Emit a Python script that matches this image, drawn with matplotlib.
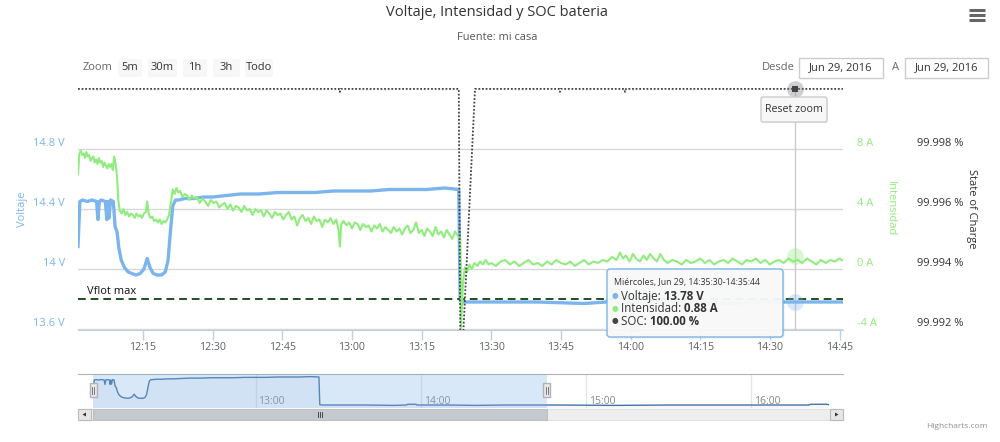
import matplotlib
matplotlib.use("Agg")
import matplotlib.pyplot as plt
from matplotlib.patches import Rectangle, FancyBboxPatch, Polygon
from matplotlib.transforms import blended_transform_factory

plt.rcParams['font.family'] = ['Open Sans', 'DejaVu Sans']

# ---------------------------------------
# Data (time in minutes after 12:00, Jun 29 2016)
# ---------------------------------------
volt_min = [1.0, 1.4, 2, 3, 4, 5.0, 5.3, 5.6, 6, 6.9,
            7.2, 7.4, 7.7, 8.0, 8.6, 9.0, 9.4, 9.8, 10.3, 11.0,
            11.8, 12.6, 13.5, 14.4, 15.2, 15.9, 16.5, 17.2, 18.0, 19.0,
            19.8, 20.4, 20.9, 21.4, 22.0, 22.6, 24, 26, 28, 30,
            33, 36, 40, 44, 48, 52, 56, 60, 64, 68,
            72, 76, 80, 83.0, 83.3, 84, 90, 100, 110, 114.8,
            115.2, 118.2, 118.6, 130, 140, 150, 160, 170, 190, 210,
            230, 250, 261, 261.5, 267.5, 268]
volt_val = [14.15, 14.45, 14.46, 14.45, 14.46, 14.45, 14.33, 14.45, 14.46, 14.45,
            14.33, 14.45, 14.34, 14.46, 14.45, 14.28, 14.25, 14.14, 14.06, 14.01,
            13.98, 13.97, 13.96, 13.97, 14.00, 14.07, 14.01, 13.97, 13.96, 13.96,
            13.98, 14.06, 14.25, 14.42, 14.46, 14.46, 14.47, 14.47, 14.48, 14.48,
            14.49, 14.50, 14.50, 14.51, 14.51, 14.51, 14.52, 14.52, 14.52, 14.53,
            14.53, 14.53, 14.54, 14.53, 13.79, 13.78, 13.78, 13.78, 13.77, 13.78,
            13.80, 13.80, 13.78, 13.78, 13.77, 13.78, 13.78, 13.78, 13.77, 13.78,
            13.78, 13.78, 13.78, 13.80, 13.80, 13.79]

# (minute, amps)
cur_points = [
    (1.0, 6.3), (1.3, 7.7), (1.6, 7.9), (1.9, 7.6), (2.2, 7.7), (2.5, 7.4), (2.8, 7.8),
    (3.1, 7.5), (3.4, 7.6), (3.7, 7.2), (4.0, 7.4), (4.3, 7.5), (4.6, 7.1), (4.9, 7.3),
    (5.2, 7.0), (5.5, 7.4), (5.8, 7.1), (6.1, 7.2), (6.4, 6.8), (6.7, 7.1), (7.0, 6.9),
    (7.3, 6.7), (7.6, 7.0), (7.9, 6.8), (8.2, 7.0), (8.5, 6.6), (8.8, 7.5), (9.1, 7.0),
    (9.4, 6.2), (9.7, 4.5), (10.0, 3.9),
    (10.4, 3.7), (10.8, 4.0), (11.2, 3.6), (11.6, 3.8), (12.0, 3.5), (12.4, 3.7),
    (12.8, 3.6), (13.2, 3.4), (13.6, 3.7), (14.0, 3.5), (14.4, 3.6), (14.8, 3.4),
    (15.2, 3.7), (15.6, 3.8), (15.9, 4.5), (16.2, 3.7), (16.6, 3.4), (17.0, 3.5),
    (17.4, 3.2), (17.8, 3.3), (18.2, 3.1), (18.6, 3.3), (19.0, 3.0), (19.4, 3.2),
    (19.8, 3.1), (20.2, 3.3), (20.6, 3.6), (21.0, 4.4), (21.4, 5.3),
    (21.8, 5.0), (22.2, 5.4), (22.6, 5.1), (23.0, 5.2), (23.5, 4.8), (24.0, 5.0),
    (24.5, 4.9), (25.0, 4.6), (25.5, 4.9), (26.0, 4.7), (26.6, 4.8), (27.2, 4.4),
    (27.8, 4.7), (28.4, 4.5), (29.0, 4.2), (29.6, 4.6), (30.2, 4.4), (30.8, 4.5),
    (31.4, 4.1), (32.0, 4.3), (32.6, 4.4), (33.2, 4.0), (33.8, 4.3), (34.4, 3.9),
    (35.0, 4.2), (35.6, 4.1), (36.2, 3.8), (36.8, 4.2), (37.4, 3.9), (38.0, 4.0),
    (38.6, 3.6), (39.2, 4.0), (39.8, 3.8), (40.4, 3.9), (41.0, 3.5), (41.6, 3.9),
    (42.2, 3.7), (42.8, 3.4), (43.4, 3.8), (44.0, 3.6), (44.6, 3.7), (45.2, 3.3),
    (45.8, 3.6), (46.4, 3.8), (47.0, 3.3), (47.6, 3.5), (48.2, 2.9), (48.8, 3.4),
    (49.4, 3.6), (50.0, 3.2), (50.6, 3.4), (51.2, 3.0), (51.8, 3.5), (52.4, 3.2),
    (53.0, 3.3), (53.6, 2.8), (54.2, 3.3), (54.8, 3.1), (55.4, 3.4), (56.0, 3.0),
    (56.6, 3.3), (57.1, 2.6), (57.4, 1.5), (57.7, 3.0), (58.2, 3.2), (58.8, 2.9),
    (59.4, 3.1), (60.0, 2.7), (60.6, 3.1), (61.2, 3.0), (61.8, 2.6), (62.4, 3.0),
    (63.0, 2.8), (63.6, 2.9), (64.2, 2.5), (64.8, 2.9), (65.4, 2.7), (66.0, 3.0),
    (66.6, 2.5), (67.2, 2.8), (67.8, 2.6), (68.4, 2.4), (69.0, 2.8), (69.6, 2.5),
    (70.2, 2.7), (70.8, 2.3), (71.4, 2.7), (72.0, 2.9), (72.6, 2.4), (73.2, 2.6),
    (73.8, 3.1), (74.4, 2.4), (75.0, 2.6), (75.6, 2.2), (76.2, 2.7), (76.8, 2.5),
    (77.4, 2.2), (78.0, 2.8), (78.6, 2.3), (79.2, 2.5), (79.8, 2.1), (80.4, 2.6),
    (81.0, 2.3), (81.6, 2.0), (82.2, 2.5), (82.8, 2.2), (83.3, 2.0),
    (83.5, -3.9), (83.9, -1.0), (84.3, 0.1), (84.8, -0.2), (85.3, 0.3), (85.8, 0.0),
    (86.4, 0.4), (87.0, 0.2), (87.6, 0.5), (88.2, 0.3), (88.8, 0.6), (89.4, 0.3),
    (90.0, 0.4), (91.0, 0.2), (92.0, 0.5), (93.0, 0.6), (94.0, 0.3), (95.0, 0.5),
    (96.0, 0.2), (97.0, 0.4), (98.0, 0.6), (99.0, 0.3), (100.0, 0.4), (101.0, 0.2),
    (102.0, 0.5), (103.0, 0.3), (104.0, 0.6), (105.0, 0.4), (106.0, 0.3), (107.0, 0.5),
    (108.0, 0.2), (109.0, 0.4), (110.0, 0.6), (111.0, 0.3), (112.0, 0.5), (113.0, 0.4),
    (114.0, 0.6), (115.0, 0.5), (116.0, 0.8), (117.0, 0.6), (117.7, 1.1), (118.4, 0.7),
    (119.0, 0.9), (119.8, 0.5), (120.5, 1.0), (121.2, 0.7), (122.0, 0.5), (122.8, 0.9),
    (123.5, 0.6), (124.2, 1.0), (125.0, 0.7), (125.7, 0.5), (126.4, 1.0), (127.2, 0.6),
    (128.0, 0.4), (129.0, 0.6), (130.0, 0.5), (131.0, 0.3), (132.0, 0.6), (133.0, 0.4),
    (134.0, 0.5), (135.0, 0.7), (136.0, 0.4), (137.0, 0.6), (138.0, 0.3), (139.0, 0.5),
    (140.0, 0.6), (141.0, 0.4), (142.0, 0.7), (143.0, 0.5), (144.0, 0.3), (145.0, 0.6),
    (146.0, 0.5), (147.0, 0.7), (148.0, 0.4), (149.0, 0.6), (150.0, 0.3), (151.0, 0.5),
    (152.0, 0.6), (153.0, 0.4), (154.0, 0.7), (155.0, 0.5), (156.0, 0.6), (157.0, 0.4),
    (158.0, 0.7), (159.0, 0.5), (160.0, 0.3), (161.0, 0.6), (162.0, 0.4), (163.0, 0.6),
    (164.0, 0.5), (165.0, 0.7), (166.0, 0.5),
]
cur_min = [p[0] for p in cur_points]
cur_val = [p[1] for p in cur_points]

soc_min = [1.0, 57.2, 57.4, 57.6, 83.0, 83.4, 86.5, 104.6, 104.8, 105.0,
           118.6, 118.8, 119.0, 166]
soc_val = [100, 100, 99.9999, 100, 100, 99.990, 100, 100, 99.9999, 100,
           100, 99.9999, 100, 100]

vflot = 13.80

x_ticks = [15, 30, 45, 60, 75, 90, 105, 120, 135, 150, 165]
x_labels = ['12:15', '12:30', '12:45', '13:00', '13:15', '13:30',
            '13:45', '14:00', '14:15', '14:30', '14:45']
volt_ticks = [13.6, 14.0, 14.4, 14.8]
cur_ticks = [-4, 0, 4, 8]
soc_ticks = [99.992, 99.994, 99.996, 99.998]
nav_ticks = [60, 120, 180, 240]
nav_labels = ['13:00', '14:00', '15:00', '16:00']

range_buttons = ['5m', '30m', '1h', '3h', 'Todo']
date_from = 'Jun 29, 2016'
date_to = 'Jun 29, 2016'

hover_min = 155.4
hover_volt = 13.78
hover_cur = 0.88
hover_soc = 100.0
tooltip_header = 'Miércoles, Jun 29, 14:35:30-14:35:44'
tooltip_rows = [('Voltaje', '13.78 V'), ('Intensidad', '0.88 A'), ('SOC', '100.00 %')]

x_start, x_end = 1.0, 165.75

BLUE = '#7cb5ec'
GREEN = '#90ed7d'
DARK = '#434348'

# ---------------------------------------
# Figure helpers (pixel boxes)
# ---------------------------------------
W, H = 1000, 442


def px_rect(x0, y0, x1, y1):
    return [x0 / W, 1 - y1 / H, (x1 - x0) / W, (y1 - y0) / H]


fig = plt.figure(figsize=(W / 100, H / 100), dpi=100)
fig.patch.set_facecolor('white')

# ---------------------------------------
# Main plot: voltage
# ---------------------------------------
ax = fig.add_axes(px_rect(78, 88, 843, 330))
ax.set_xlim(x_start, x_end)
ax.set_ylim(13.5933, 15.2067)
for s in ['top', 'left', 'right']:
    ax.spines[s].set_visible(False)
ax.spines['bottom'].set_color('#c0d0e0')
ax.set_yticks(volt_ticks)
ax.set_yticklabels([f'{v:g} V' for v in volt_ticks])
ax.tick_params(axis='y', length=0, pad=9.4, labelsize=8, labelcolor=BLUE)
for t in ax.get_yticklabels():
    t.set_verticalalignment('bottom')
ax.set_xticks(x_ticks)
ax.set_xticklabels(x_labels)
ax.tick_params(axis='x', length=7, width=1, color='#c0d0e0', pad=1.5,
               labelsize=7.6, labelcolor='#606060')
ax.grid(axis='y', color='#d8d8d8', lw=1)
ax.set_axisbelow(True)

ax.axvline(hover_min, color='#cccccc', lw=1, zorder=1)
ax.plot(volt_min, volt_val, color=BLUE, lw=2.4, solid_joinstyle='round', zorder=3)
ax.axhline(vflot, color='#1f4f1f', lw=1.4, ls=(0, (4, 2.5)), zorder=4)
ax.annotate('Vflot max', xy=(0, vflot),
            xycoords=blended_transform_factory(ax.transAxes, ax.transData),
            xytext=(6.5, 1.5), textcoords='offset points',
            va='bottom', ha='left', fontsize=8, color='#111111')
ax.plot([hover_min], [hover_volt], 'o', ms=12, color=BLUE, alpha=0.3, mew=0, zorder=5)
ax.text(-0.0732, 0.5, 'Voltaje', transform=ax.transAxes, rotation=90,
        ha='center', va='center', fontsize=8, color=BLUE)

# ---------------------------------------
# Current axis
# ---------------------------------------
ax_i = ax.twinx()
ax_i.set_ylim(-4.067, 12.067)
for s in ax_i.spines.values():
    s.set_visible(False)
ax_i.set_yticks(cur_ticks)
ax_i.set_yticklabels([f'{v} A' for v in cur_ticks])
ax_i.tick_params(axis='y', length=0, pad=10, labelsize=8, labelcolor=GREEN)
for t in ax_i.get_yticklabels():
    t.set_verticalalignment('bottom')
ax_i.plot(cur_min, cur_val, color=GREEN, lw=1.5, zorder=3)
ax_i.plot([hover_min], [hover_cur], 'o', ms=12, color=GREEN, alpha=0.35, mew=0, zorder=5)
ax_i.text(1.0614, 0.5, 'Intensidad', transform=ax_i.transAxes, rotation=270,
          ha='center', va='center', fontsize=8, color=GREEN)

# ---------------------------------------
# SOC axis
# ---------------------------------------
ax_s = ax.twinx()
ax_s.set_ylim(99.99197, 100.00003)
for s in ax_s.spines.values():
    s.set_visible(False)
ax_s.set_yticks(soc_ticks)
ax_s.set_yticklabels([f'{v:.3f} %' for v in soc_ticks])
ax_s.tick_params(axis='y', length=0, pad=53, labelsize=8, labelcolor='#333333')
for t in ax_s.get_yticklabels():
    t.set_verticalalignment('bottom')
ax_s.plot(soc_min, soc_val, color=DARK, lw=1.3, ls=(0, (1, 1)), zorder=3)
ax_s.plot([hover_min], [hover_soc], 'o', ms=12, color='#888888', alpha=0.4,
          mew=0, zorder=5, clip_on=False)
ax_s.plot([hover_min], [hover_soc], 's', ms=5, color=DARK, mew=0, zorder=6, clip_on=False)
ax_s.text(1.1686, 0.5, 'State of Charge', transform=ax_s.transAxes, rotation=270,
          ha='center', va='center', fontsize=8, color='#333333')

# ---------------------------------------
# Navigator
# ---------------------------------------
nav_lim = (-4.5, 273.3)
nav = fig.add_axes(px_rect(78, 374, 843, 408))
nav.set_xlim(*nav_lim)
nav.set_ylim(13.70, 14.61)
for s in ['left', 'right', 'bottom']:
    nav.spines[s].set_visible(False)
nav.spines['top'].set_color('#b2b1b6')
nav.set_xticks([])
nav.set_yticks([])
for m, lab in zip(nav_ticks, nav_labels):
    nav.axvline(m, color='#e6e6e6', lw=1, zorder=1)
    nav.annotate(lab, xy=(m, 0.185),
                 xycoords=blended_transform_factory(nav.transData, nav.transAxes),
                 xytext=(2, 0), textcoords='offset points',
                 ha='left', va='center', fontsize=7.5, color='#888888', zorder=2)
nav.fill_between(volt_min, volt_val, 13.70, color='#4572a7', alpha=0.05, lw=0)
nav.plot(volt_min, volt_val, color='#4572a7', lw=1, zorder=3)
nav.axvspan(x_start, x_end, color='#80b3ec', alpha=0.3, lw=0, zorder=4)

# ---------------------------------------
# UI overlay (pixel coordinates)
# ---------------------------------------
ui = fig.add_axes([0, 0, 1, 1])
ui.set_xlim(0, W)
ui.set_ylim(H, 0)
ui.axis('off')

ui.text(497, 13, 'Voltaje, Intensidad y SOC bateria', ha='center', va='center',
        fontsize=10.5, color='#333333')
ui.text(497, 37, 'Fuente: mi casa', ha='center', va='center',
        fontsize=7.9, color='#555555')

# export menu icon
for yy in (10, 15, 20):
    ui.plot([969, 985], [yy, yy], color='#666666', lw=2.2, solid_capstyle='butt')

# range selector
ui.text(83, 68, 'Zoom', ha='left', va='center', fontsize=8, color='#666666')
btn_x = [(118, 142), (148, 177), (183, 207), (213, 240), (245, 273)]
for lab, (x0, x1) in zip(range_buttons, btn_x):
    ui.add_patch(FancyBboxPatch((x0, 59), x1 - x0, 18,
                                boxstyle='round,pad=0,rounding_size=2',
                                fc='#f7f7f7', ec='none'))
    ui.text((x0 + x1) / 2, 68, lab, ha='center', va='center', fontsize=8, color='#333333')

ui.text(762, 68, 'Desde', ha='left', va='center', fontsize=8, color='#666666')
ui.add_patch(Rectangle((799, 58), 84, 20, fc='white', ec='#cccccc', lw=1))
ui.text(841, 68, date_from, ha='center', va='center', fontsize=8, color='#333333')
ui.text(892, 68, 'A', ha='left', va='center', fontsize=8, color='#666666')
ui.add_patch(Rectangle((905, 58), 83, 20, fc='white', ec='#cccccc', lw=1))
ui.text(946.5, 68, date_to, ha='center', va='center', fontsize=8, color='#333333')

# reset zoom button
ui.add_patch(FancyBboxPatch((762, 98), 66, 25, boxstyle='round,pad=0,rounding_size=2',
                            fc='#000000', ec='none', alpha=0.06))
ui.add_patch(FancyBboxPatch((761, 97), 66, 25, boxstyle='round,pad=0,rounding_size=2',
                            fc='#f7f7f7', ec='#cccccc', lw=1))
ui.text(794, 109.5, 'Reset zoom', ha='center', va='center', fontsize=7.7, color='#333333')

# tooltip
ui.add_patch(FancyBboxPatch((608.5, 270.5), 176, 68, boxstyle='round,pad=0,rounding_size=3',
                            fc='#000000', ec='none', alpha=0.08))
ui.add_patch(FancyBboxPatch((607, 269), 176, 68, boxstyle='round,pad=0,rounding_size=3',
                            fc=(0.976, 0.976, 0.976, 0.96), ec=BLUE, lw=1))
ui.text(614, 283, tooltip_header, ha='left', va='center', fontsize=6.3, color='#333333')
for (lab, val), col, yy in zip(tooltip_rows, [BLUE, GREEN, DARK], [296.5, 309, 321.5]):
    ui.text(612, yy, '\u25cf', ha='left', va='center', fontsize=5.5, color=col)
    t = ui.text(621, yy, lab + ': ', ha='left', va='center', fontsize=8.3, color='#333333')
    ui.annotate(val, xy=(1, 0.5), xycoords=t, ha='left', va='center',
                fontsize=8.3, fontweight='bold', color='#333333')


# navigator handles and scrollbar
def nav_px(m):
    return 78 + (m - nav_lim[0]) / (nav_lim[1] - nav_lim[0]) * 765


h0, h1 = nav_px(x_start), nav_px(x_end)
ui.add_patch(Rectangle((78, 409), 765, 11, fc='#eeeeee', ec='#e0e0e0', lw=0.8))
ui.add_patch(Rectangle((h0, 409), h1 - h0, 11, fc='#c4c9cf', ec='#bbbbbb', lw=0.6))
gx = (h0 + h1) / 2
for dx in (-2, 0, 2):
    ui.plot([gx + dx, gx + dx], [412, 417], color='#333333', lw=0.6)
for bx, pts in [(78, [(86, 412.5), (86, 416.5), (82.5, 414.5)]),
                (830, [(835, 412.5), (835, 416.5), (838.5, 414.5)])]:
    ui.add_patch(Rectangle((bx, 409), 13, 11, fc='#e6e6e6', ec='#bbbbbb', lw=0.8))
    ui.add_patch(Polygon(pts, closed=True, fc='#333333', ec='none'))
for hx in (h0, h1):
    ui.add_patch(Rectangle((hx - 3.5, 383), 7, 14, fc='#ebe7e8', ec='#b2b1b6', lw=1))
    for dx in (-1, 1):
        ui.plot([hx + dx, hx + dx], [386.5, 393.5], color='#666666', lw=0.6)

ui.text(988, 427, 'Highcharts.com', ha='right', va='center', fontsize=6, color='#909090')

fig.savefig('out.png', dpi=100)
